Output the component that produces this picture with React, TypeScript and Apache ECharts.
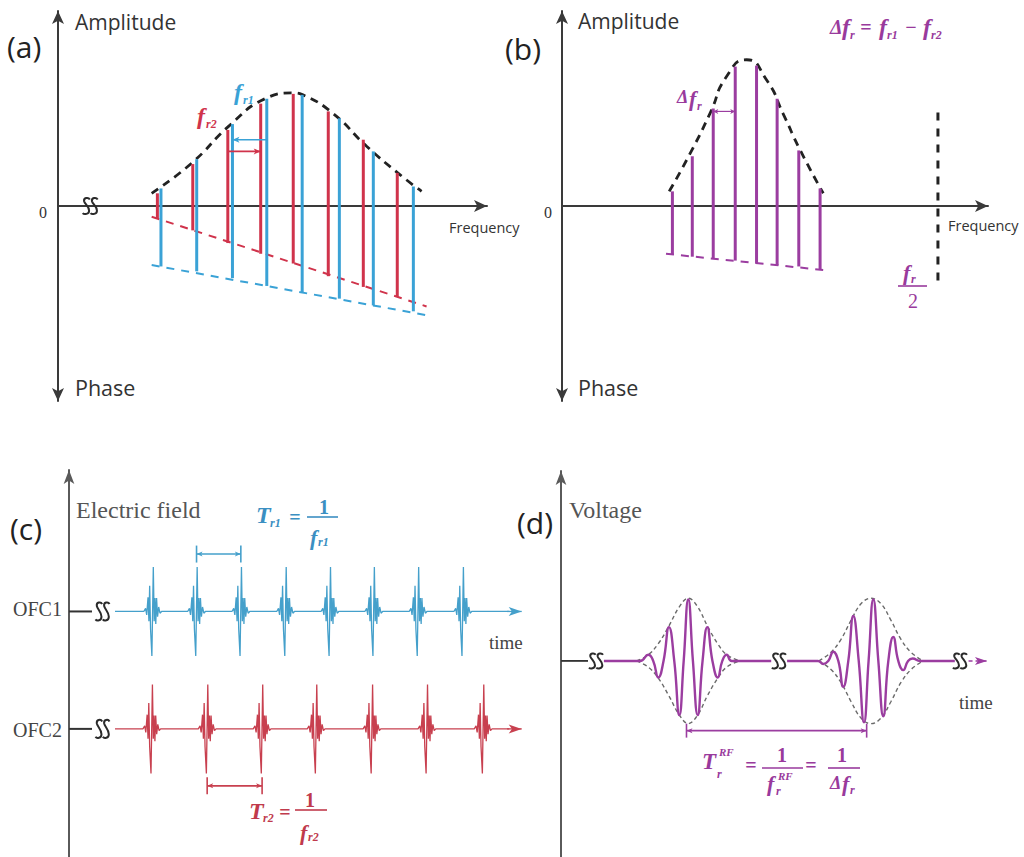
import React, { useEffect, useRef } from "react";
import * as echarts from "echarts";

// ---------------- panel (a): two combs, amplitude (top) and phase (bottom) ----------------
const RED_A_X = [2.78, 3.77, 4.75, 5.67, 6.58, 7.56, 8.54, 9.49];
const RED_A_AMP = [0.13, 0.43, 0.78, 1.05, 1.15, 0.97, 0.68, 0.34];
const RED_A_PHASE = [-0.13, -0.25, -0.38, -0.49, -0.59, -0.72, -0.83, -0.93];
const BLUE_A_X = [2.88, 3.88, 4.88, 5.84, 6.83, 7.87, 8.82, 9.94];
const BLUE_A_AMP = [0.18, 0.48, 0.84, 1.1, 1.14, 0.9, 0.56, 0.2];
const BLUE_A_PHASE = [-0.62, -0.67, -0.74, -0.82, -0.89, -0.95, -1.02, -1.08];
const ENV_A_X = [2.62, 3.74, 4.81, 5.79, 6.58, 6.85, 7.69, 8.64, 9.57, 10.17];
const ENV_A_Y = [0.13, 0.44, 0.83, 1.1, 1.16, 1.14, 0.95, 0.61, 0.32, 0.15];
const RED_A_PHASE_LINE = [[2.62, -0.11], [10.31, -1.03]];
const BLUE_A_PHASE_LINE = [[2.62, -0.605], [10.31, -1.12]];
const BLUE_A_SPACING = [5.84, 0.68, 4.88, 0.68];
const RED_A_SPACING = [4.75, 0.56, 5.67, 0.56];
const BREAKS_A = [[0.9, 0]];

// ---------------- panel (b): difference comb ----------------
const PURPLE_B_X = [3.11, 3.67, 4.26, 4.88, 5.48, 6.06, 6.67, 7.27];
const PURPLE_B_AMP = [0.15, 0.51, 1.0, 1.43, 1.44, 1.1, 0.57, 0.18];
const PURPLE_B_PHASE = [-0.5, -0.52, -0.54, -0.56, -0.59, -0.61, -0.62, -0.65];
const ENV_B_X = [3.02, 3.61, 4.17, 4.64, 5.2, 5.75, 6.25, 6.7, 7.36];
const ENV_B_Y = [0.15, 0.54, 0.95, 1.33, 1.5, 1.3, 0.93, 0.58, 0.13];
const PHASE_B_LINE = [[2.93, -0.49], [7.46, -0.66]];
const DELTA_FR_ARROW = [4.26, 0.97, 4.88, 0.97];
const HALF_FR_LINE = [[10.59, 0.96], [10.59, -0.83]];

// ---------------- panel (c): two pulse trains ----------------
const OFC1_BASE = 2.64;
const OFC2_BASE = 0;
const OFC1_PULSES = [1, 1.99, 2.99, 4.0, 5.0, 5.99, 6.99, 8.0];
const OFC2_PULSES = [0.98, 2.23, 3.47, 4.69, 5.95, 7.19, 8.46];
const PULSE_DT = [-0.2, -0.16, -0.135, -0.105, -0.085, -0.068, -0.048, -0.018, 0.014, 0.034, 0.052, 0.07, 0.088, 0.11, 0.135, 0.165, 0.2];
const PULSE_AMP = [0, 0.07, -0.08, 0.32, -0.22, 0.58, -0.4, -1.0, 1.0, -0.22, 0.3, -0.28, 0.3, -0.12, 0.1, -0.04, 0];
const TRAIN_SPAN = [0.149, 9.05];
const TRAIN_ARROW = [9.0, 9.33];
const STUB_C = [-0.889, -0.37];
const BREAK_C = -0.133;
const TR1_BRACKET = [1.99, 2.99, 3.93];
const TR2_BRACKET = [2.23, 3.47, -1.28];

// ---------------- panel (d): RF beat signal ----------------
const STUB_D = [0, 0.63];
const BREAKS_D = [0.816, 5.08, 9.3];
const WAVE_SPANS = [[1.0, 4.9], [5.27, 9.18]];
const PACKET1_T = [1.84, 2.035, 2.15, 2.268, 2.39, 2.517, 2.64, 2.758, 2.86, 2.967, 3.075, 3.186, 3.3, 3.41, 3.53, 3.653, 3.76, 3.862, 3.98];
const PACKET1_V = [0, 0.1, 0, -0.27, 0, 0.55, 0, -0.88, 0, 1.0, 0, -0.88, 0, 0.55, 0, -0.27, 0, 0.1, 0];
const PACKET2_T = [5.99, 6.114, 6.23, 6.347, 6.464, 6.58, 6.697, 6.814, 6.94, 7.063, 7.17, 7.28, 7.397, 7.513, 7.63, 7.746, 7.862, 7.979, 8.09, 8.198, 8.37];
const PACKET2_V = [0, -0.05, 0, 0.15, 0, -0.42, 0, 0.73, 0, -1.0, 0, 1.0, 0, -0.9, 0, 0.39, 0, -0.15, 0, 0.04, 0];
const ENV1_T = [1.765, 2.035, 2.268, 2.517, 2.758, 2.967, 3.186, 3.41, 3.653, 3.862, 4.172];
const ENV1_V = [0, 0.1, 0.28, 0.57, 0.88, 1.02, 0.88, 0.57, 0.28, 0.1, 0];
const ENV2_T = [6.014, 6.294, 6.527, 6.76, 6.993, 7.226, 7.459, 7.692, 7.925, 8.159, 8.438];
const ENV2_V = [0, 0.14, 0.35, 0.66, 0.93, 1.02, 0.93, 0.66, 0.35, 0.14, 0];
const RF_ARROW = [9.5, 9.93];
const RF_BRACKET = [2.925, 7.125, -1.134];

// ---------------- styling ----------------
const BLUE = "#3aa2d6";
const RED = "#d0334b";
const PURPLE = "#9b3da0";
const C_BLUE = "#45a0cb";
const C_RED = "#c8404f";
const F_BLUE = "#3b8fc2";
const F_RED = "#c03a4c";
const F_PURPLE = "#993a9c";
const AX = "#3a3a3a";
const SANS = '"Open Sans", "Noto Sans", sans-serif';
const SERIF = '"Liberation Serif", "DejaVu Serif", serif';
const FBI = (s: number) => `italic bold ${s}px ${SERIF}`;
const FB = (s: number) => `bold ${s}px ${SERIF}`;
const BREAK_PATH =
  "M5.5 2 C4.5 0 1 0.5 1.5 3.5 C2 6 5 8 5 11.5 C5 14.5 1.5 15 0.5 13.5 M11 2 C10 0 6.5 0.5 7 3.5 C7.5 6 10.5 8 10.5 11.5 C10.5 14.5 7 15 6 13.5";

function combSeries(grid: number, xs: number[], amps: number[], phases: number[], color: string) {
  return {
    type: "custom",
    xAxisIndex: grid,
    yAxisIndex: grid,
    silent: true,
    z: 4,
    data: xs.map((x, i) => [x, amps[i], phases[i]]),
    encode: { x: 0, y: [1, 2] },
    renderItem: (_p: any, api: any) => {
      const x = api.value(0);
      const a = api.coord([x, api.value(1)]);
      const b = api.coord([x, api.value(2)]);
      return {
        type: "line",
        shape: { x1: a[0], y1: a[1], x2: b[0], y2: b[1] },
        style: { stroke: color, lineWidth: 3 },
      };
    },
  };
}

type ArrowOpts = {
  color: string;
  width: number;
  start?: boolean;
  end?: boolean;
  len?: number;
  half?: number;
  tick?: number;
  dash?: number[];
};

function arrowSeries(grid: number, rows: number[][], o: ArrowOpts) {
  const len = o.len ?? 8;
  const half = o.half ?? 3.5;
  return {
    type: "custom",
    xAxisIndex: grid,
    yAxisIndex: grid,
    silent: true,
    z: 6,
    data: rows,
    encode: { x: [0, 2], y: [1, 3] },
    renderItem: (_p: any, api: any) => {
      const p1 = api.coord([api.value(0), api.value(1)]);
      const p2 = api.coord([api.value(2), api.value(3)]);
      const dx = p2[0] - p1[0];
      const dy = p2[1] - p1[1];
      const L = Math.hypot(dx, dy) || 1;
      const ux = dx / L;
      const uy = dy / L;
      const children: any[] = [
        {
          type: "line",
          shape: { x1: p1[0], y1: p1[1], x2: p2[0], y2: p2[1] },
          style: { stroke: o.color, lineWidth: o.width, lineDash: o.dash || null },
        },
      ];
      const head = (tip: number[], sx: number, sy: number) => ({
        type: "polygon",
        shape: {
          points: [
            [tip[0], tip[1]],
            [tip[0] - sx * len - sy * half, tip[1] - sy * len + sx * half],
            [tip[0] - sx * len * 0.75, tip[1] - sy * len * 0.75],
            [tip[0] - sx * len + sy * half, tip[1] - sy * len - sx * half],
          ],
        },
        style: { fill: o.color },
      });
      if (o.end) children.push(head(p2, ux, uy));
      if (o.start) children.push(head(p1, -ux, -uy));
      if (o.tick) {
        const t = o.tick / 2;
        [p1, p2].forEach((p) => {
          children.push({
            type: "line",
            shape: { x1: p[0] - uy * t, y1: p[1] + ux * t, x2: p[0] + uy * t, y2: p[1] - ux * t },
            style: { stroke: o.color, lineWidth: o.width },
          });
        });
      }
      return { type: "group", children };
    },
  };
}

function breakSeries(grid: number, pts: number[][], w: number, h: number) {
  return {
    type: "custom",
    xAxisIndex: grid,
    yAxisIndex: grid,
    silent: true,
    z: 7,
    data: pts,
    encode: { x: 0, y: 1 },
    renderItem: (_p: any, api: any) => {
      const p = api.coord([api.value(0), api.value(1)]);
      return {
        type: "path",
        shape: { pathData: BREAK_PATH, x: p[0] - w / 2, y: p[1] - h / 2, width: w, height: h, layout: "cover" },
        style: { stroke: "#2a2a2a", fill: "none", lineWidth: 2 },
      };
    },
  };
}

function lineSeries(grid: number, data: number[][], color: string, width: number, dash?: number[], smooth?: number) {
  return {
    type: "line",
    xAxisIndex: grid,
    yAxisIndex: grid,
    data,
    symbol: "none",
    silent: true,
    smooth: smooth || false,
    lineStyle: { color, width, type: dash || "solid" },
    z: 3,
  };
}

function trainData(pulses: number[], base: number) {
  const pts: number[][] = [[TRAIN_SPAN[0], base]];
  pulses.forEach((c) => PULSE_DT.forEach((dt, k) => pts.push([c + dt, base + PULSE_AMP[k]])));
  pts.push([TRAIN_SPAN[1], base]);
  return pts;
}

function t(x: number, y: number, text: string, font: string, fill: string, align = "left") {
  return { type: "text", x, y, silent: true, z: 10, style: { text, font, fill, align, verticalAlign: "middle" } };
}
function ln(x1: number, y1: number, x2: number, y2: number, stroke: string, w = 1.6) {
  return { type: "line", silent: true, z: 10, shape: { x1, y1, x2, y2 }, style: { stroke, lineWidth: w } };
}

function buildOption() {
  const hidden = { axisTick: { show: false }, axisLabel: { show: false }, splitLine: { show: false } };
  const abAxisX = (grid: number) => ({
    gridIndex: grid,
    type: "value",
    min: 0,
    max: 12,
    ...hidden,
    axisLine: { show: true, onZero: true, symbol: ["none", "arrow"], symbolSize: [9, 13], lineStyle: { color: AX, width: 2 } },
  });
  const abAxisY = (grid: number) => ({
    gridIndex: grid,
    type: "value",
    min: -2,
    max: 2,
    ...hidden,
    axisLine: { show: true, onZero: false, symbol: ["arrow", "arrow"], symbolSize: [9, 13], lineStyle: { color: AX, width: 2 } },
  });
  const cdAxisY = (grid: number, min: number, max: number) => ({
    gridIndex: grid,
    type: "value",
    min,
    max,
    ...hidden,
    axisLine: { show: true, onZero: false, symbol: ["none", "arrow"], symbolSize: [8, 14], lineStyle: { color: "#5a5a5a", width: 2 } },
  });

  const series: any[] = [
    // (a)
    lineSeries(0, RED_A_PHASE_LINE, RED, 2, [8, 7]),
    lineSeries(0, BLUE_A_PHASE_LINE, BLUE, 2, [8, 7]),
    combSeries(0, RED_A_X, RED_A_AMP, RED_A_PHASE, RED),
    combSeries(0, BLUE_A_X, BLUE_A_AMP, BLUE_A_PHASE, BLUE),
    lineSeries(0, ENV_A_X.map((x, i) => [x, ENV_A_Y[i]]), "#222", 2.8, [8, 6], 0.5),
    arrowSeries(0, [BLUE_A_SPACING], { color: BLUE, width: 1.6, end: true, len: 7, half: 3 }),
    arrowSeries(0, [RED_A_SPACING], { color: RED, width: 1.6, end: true, len: 7, half: 3 }),
    breakSeries(0, BREAKS_A, 15, 16),
    // (b)
    lineSeries(1, PHASE_B_LINE, PURPLE, 2, [8, 7]),
    combSeries(1, PURPLE_B_X, PURPLE_B_AMP, PURPLE_B_PHASE, PURPLE),
    lineSeries(1, ENV_B_X.map((x, i) => [x, ENV_B_Y[i]]), "#222", 2.8, [8, 6], 0.6),
    arrowSeries(1, [DELTA_FR_ARROW], { color: PURPLE, width: 1.2, start: true, end: true, len: 5, half: 2.5 }),
    lineSeries(1, HALF_FR_LINE, "#222", 3, [8, 8]),
    // (c)
    lineSeries(2, trainData(OFC1_PULSES, OFC1_BASE), C_BLUE, 1.3),
    lineSeries(2, trainData(OFC2_PULSES, OFC2_BASE), C_RED, 1.3),
    arrowSeries(2, [[TRAIN_ARROW[0], OFC1_BASE, TRAIN_ARROW[1], OFC1_BASE]], { color: C_BLUE, width: 1.3, end: true, len: 13, half: 4.5 }),
    arrowSeries(2, [[TRAIN_ARROW[0], OFC2_BASE, TRAIN_ARROW[1], OFC2_BASE]], { color: C_RED, width: 1.3, end: true, len: 13, half: 4.5 }),
    arrowSeries(
      2,
      [
        [STUB_C[0], OFC1_BASE, STUB_C[1], OFC1_BASE],
        [STUB_C[0], OFC2_BASE, STUB_C[1], OFC2_BASE],
      ],
      { color: "#333", width: 2 }
    ),
    breakSeries(2, [[BREAK_C, OFC1_BASE], [BREAK_C, OFC2_BASE]], 14, 18),
    arrowSeries(2, [[TR1_BRACKET[0], TR1_BRACKET[2], TR1_BRACKET[1], TR1_BRACKET[2]]], {
      color: C_BLUE, width: 1.6, start: true, end: true, len: 6, half: 2.5, tick: 17,
    }),
    arrowSeries(2, [[TR2_BRACKET[0], TR2_BRACKET[2], TR2_BRACKET[1], TR2_BRACKET[2]]], {
      color: C_RED, width: 1.6, start: true, end: true, len: 6, half: 2.5, tick: 17,
    }),
    // (d)
    arrowSeries(3, [[STUB_D[0], 0, STUB_D[1], 0]], { color: "#333", width: 1.8 }),
    breakSeries(3, BREAKS_D.map((x) => [x, 0]), 14, 15),
    lineSeries(3, ENV1_T.map((x, i) => [x, ENV1_V[i]]), "#6a6a6a", 1.4, [4, 3], 0.4),
    lineSeries(3, ENV1_T.map((x, i) => [x, -ENV1_V[i]]), "#6a6a6a", 1.4, [4, 3], 0.4),
    lineSeries(3, ENV2_T.map((x, i) => [x, ENV2_V[i]]), "#6a6a6a", 1.4, [4, 3], 0.4),
    lineSeries(3, ENV2_T.map((x, i) => [x, -ENV2_V[i]]), "#6a6a6a", 1.4, [4, 3], 0.4),
    lineSeries(
      3,
      [[WAVE_SPANS[0][0], 0], ...PACKET1_T.map((x, i) => [x, PACKET1_V[i]]), [WAVE_SPANS[0][1], 0]],
      PURPLE,
      2.4,
      undefined,
      0.5
    ),
    lineSeries(
      3,
      [[WAVE_SPANS[1][0], 0], ...PACKET2_T.map((x, i) => [x, PACKET2_V[i]]), [WAVE_SPANS[1][1], 0]],
      PURPLE,
      2.4,
      undefined,
      0.5
    ),
    arrowSeries(3, [[RF_ARROW[0], 0, RF_ARROW[1], 0]], { color: PURPLE, width: 1.5, end: true, len: 12, half: 4, dash: [4, 3] }),
    arrowSeries(3, [[RF_BRACKET[0], RF_BRACKET[2], RF_BRACKET[1], RF_BRACKET[2]]], {
      color: PURPLE, width: 1.6, start: true, end: true, len: 6, half: 2.5, tick: 14,
    }),
  ];

  const elements: any[] = [
    // (a)
    t(7, 46, "(a)", `30px ${SANS}`, "#222"),
    t(75, 22, "Amplitude", `21px ${SANS}`, "#333"),
    t(75, 387, "Phase", `21.5px ${SANS}`, "#333"),
    t(43, 212, "0", `16px ${SERIF}`, "#333", "center"),
    t(449, 227, "Frequency", `14.5px ${SANS}`, "#333"),
    t(234, 92, "f", FBI(24), BLUE),
    t(243, 100, "r1", FBI(12), BLUE),
    t(197, 116, "f", FBI(24), RED),
    t(206, 124, "r2", FBI(12), RED),
    // (b)
    t(505, 48, "(b)", `30px ${SANS}`, "#222"),
    t(578, 21, "Amplitude", `21px ${SANS}`, "#333"),
    t(578, 387, "Phase", `21.5px ${SANS}`, "#333"),
    t(548, 212, "0", `16px ${SERIF}`, "#333", "center"),
    t(948, 225, "Frequency", `14.5px ${SANS}`, "#333"),
    t(830, 27, "Δ", FBI(20), F_PURPLE),
    t(842, 27, "f", FBI(24), F_PURPLE),
    t(850, 35, "r", FBI(12), F_PURPLE),
    t(866, 27, "=", FB(20), F_PURPLE, "center"),
    t(879, 27, "f", FBI(24), F_PURPLE),
    t(887, 35, "r1", FBI(12), F_PURPLE),
    t(911, 27, "−", FB(20), F_PURPLE, "center"),
    t(923, 27, "f", FBI(24), F_PURPLE),
    t(931, 35, "r2", FBI(12), F_PURPLE),
    t(677, 97, "Δ", FBI(18), F_PURPLE),
    t(689, 98, "f", FBI(22), F_PURPLE),
    t(697, 106, "r", FBI(12), F_PURPLE),
    t(903, 272, "f", FBI(22), F_PURPLE),
    t(911, 279, "r", FBI(12), F_PURPLE),
    ln(898, 286, 927, 286, F_PURPLE),
    t(913, 301, "2", `20px ${SERIF}`, F_PURPLE, "center"),
    // (c)
    t(10, 528, "(c)", `30px ${SANS}`, "#222"),
    t(76, 510, "Electric field", `24px ${SERIF}`, "#555"),
    t(13, 609, "OFC1", `20px ${SERIF}`, "#444"),
    t(13, 730, "OFC2", `20px ${SERIF}`, "#444"),
    t(489, 642, "time", `19px ${SERIF}`, "#444"),
    t(256, 515, "T", FBI(24), F_BLUE),
    t(270, 523, "r1", FBI(12), F_BLUE),
    t(295, 517, "=", FB(20), F_BLUE, "center"),
    t(324, 507, "1", FB(20), F_BLUE, "center"),
    ln(307, 517, 338, 517, F_BLUE),
    t(310, 537, "f", FBI(22), F_BLUE),
    t(318, 542, "r1", FBI(12), F_BLUE),
    t(249, 811, "T", FBI(24), F_RED),
    t(263, 818, "r2", FBI(12), F_RED),
    t(285, 812, "=", FB(20), F_RED, "center"),
    t(310, 800, "1", FB(20), F_RED, "center"),
    ln(295, 810, 327, 810, F_RED),
    t(300, 832, "f", FBI(22), F_RED),
    t(308, 837, "r2", FBI(12), F_RED),
    // (d)
    t(517, 522, "(d)", `30px ${SANS}`, "#222"),
    t(569, 510, "Voltage", `24px ${SERIF}`, "#555"),
    t(959, 702, "time", `19px ${SERIF}`, "#444"),
    t(702, 761, "T", FBI(23), F_PURPLE),
    t(719, 752, "RF", FBI(11), F_PURPLE),
    t(717, 774, "r", FBI(12), F_PURPLE),
    t(751, 765, "=", FB(20), F_PURPLE, "center"),
    t(782, 755, "1", FB(20), F_PURPLE, "center"),
    ln(762, 768, 803, 768, F_PURPLE),
    t(767, 783, "f", FBI(22), F_PURPLE),
    t(778, 776, "RF", FBI(11), F_PURPLE),
    t(776, 791, "r", FBI(12), F_PURPLE),
    t(811, 765, "=", FB(20), F_PURPLE, "center"),
    t(842, 755, "1", FB(20), F_PURPLE, "center"),
    ln(828, 768, 860, 768, F_PURPLE),
    t(830, 783, "Δ", FBI(18), F_PURPLE),
    t(842, 783, "f", FBI(22), F_PURPLE),
    t(850, 790, "r", FBI(12), F_PURPLE),
  ];

  return {
    animation: false,
    backgroundColor: "#ffffff",
    grid: [
      { left: 58, top: 11, width: 429, height: 390 },
      { left: 562, top: 11, width: 426, height: 390 },
      { left: 69, top: 470, width: 452.7, height: 387 },
      { left: 561, top: 471, width: 429, height: 387.5 },
    ],
    xAxis: [
      abAxisX(0),
      abAxisX(1),
      { gridIndex: 2, type: "value", min: -0.889, max: 9.33, show: false },
      { gridIndex: 3, type: "value", min: 0, max: 10, show: false },
    ],
    yAxis: [abAxisY(0), abAxisY(1), cdAxisY(2, -2.88, 5.82), cdAxisY(3, -3.19, 3.09)],
    series,
    graphic: { elements },
  };
}

export default function App() {
  const ref = useRef<HTMLDivElement>(null);
  useEffect(() => {
    if (!ref.current) return;
    const chart = echarts.init(ref.current, undefined, { renderer: "svg" });
    chart.setOption(buildOption() as any);
    return () => chart.dispose();
  }, []);
  return (
    <div
      ref={ref}
      style={{ position: "absolute", left: 0, top: 0, width: 1024, height: 857, background: "#fff" }}
    />
  );
}
